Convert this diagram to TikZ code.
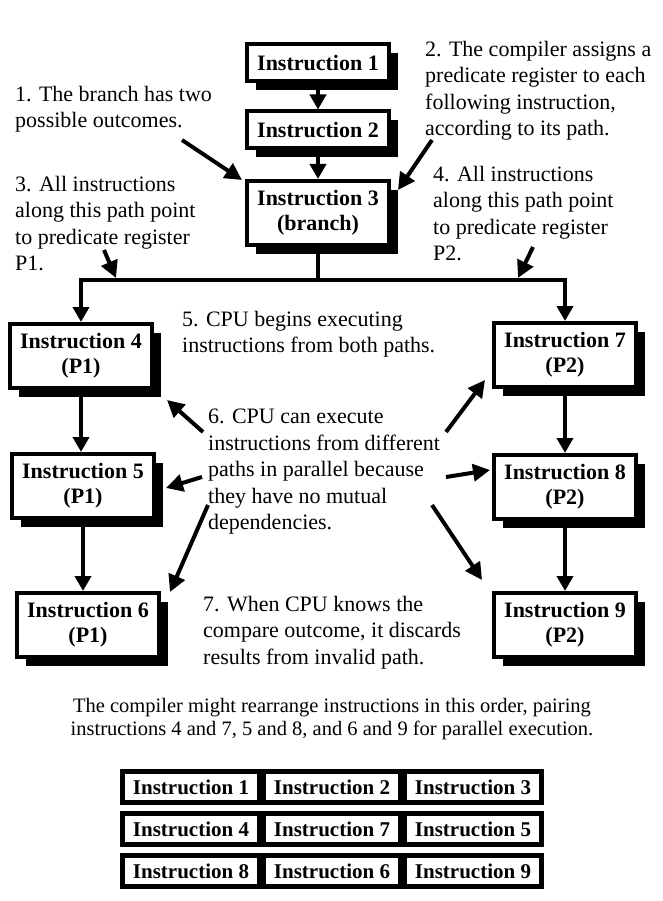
\documentclass[tikz,border=0pt]{standalone}
\usepackage{fontspec}
\setmainfont{Liberation Serif}
\usetikzlibrary{arrows.meta,shadows}

\begin{document}
\begin{tikzpicture}[x=1pt,y=-1pt,
  instr/.style={draw, line width=4pt, fill=white, align=center, inner sep=2pt,
    font=\fontsize{22}{25}\selectfont\bfseries, minimum width=142pt,
    drop shadow={shadow xshift=9pt, shadow yshift=-9pt, opacity=1, fill=black}},
  onebox/.style={instr, minimum height=37pt},
  twobox/.style={instr, minimum height=64pt},
  cell/.style={draw, line width=4.5pt, fill=white, minimum width=137pt,
    minimum height=31pt, inner sep=0pt, font=\fontsize{21}{24}\selectfont\bfseries},
  note/.style={align=left, anchor=north west, inner sep=0pt,
    font=\fontsize{22}{26.5}\selectfont},
  flow/.style={line width=4pt, -{Triangle[length=15pt,width=16pt]}},
  hint/.style={line width=4pt, -{Triangle[length=17pt,width=17pt]}}
]
\useasboundingbox (0,0) rectangle (663,901);

% instruction boxes of the flow
\node[onebox] (i1) at (318,63) {Instruction 1};
\node[onebox] (i2) at (318,130) {Instruction 2};
\node[twobox] (i3) at (318,213) {Instruction 3\\(branch)};
\node[twobox] (i4) at (81,356) {Instruction 4\\(P1)};
\node[twobox] (i5) at (83,486) {Instruction 5\\(P1)};
\node[twobox] (i6) at (88,625) {Instruction 6\\(P1)};
\node[twobox] (i7) at (565,355) {Instruction 7\\(P2)};
\node[twobox] (i8) at (565,487) {Instruction 8\\(P2)};
\node[twobox] (i9) at (565,625) {Instruction 9\\(P2)};

% flow connectors
\draw[flow] (i1) -- (i2);
\draw[flow] (i2) -- (i3);
\coordinate (split) at (i3.south |- 0,280);
\draw[line width=4pt] (i3.south) -- (split);
\draw[flow] (split) -| (i4.north);
\draw[flow] (split) -| (i7.north);
\draw[flow] (i4.south) -- (i4.south |- i5.north);
\draw[flow] (i5.south) -- (i5.south |- i6.north);
\draw[flow] (i7) -- (i8);
\draw[flow] (i8) -- (i9);

% explanatory notes
\node[note] (n1) at (15,86) {1. The branch has two\\possible outcomes.};
\node[note] (n2) at (425,41) {2. The compiler assigns a\\predicate register to each\\following instruction,\\according to its path.};
\node[note] (n3) at (15,176) {3. All instructions\\along this path point\\to predicate register\\P1.};
\node[note] (n4) at (433,166) {4. All instructions\\along this path point\\to predicate register\\P2.};
\node[note] (n5) at (182,311) {5. CPU begins executing\\instructions from both paths.};
\node[note] (n6) at (208,409) {6. CPU can execute\\instructions from different\\paths in parallel because\\they have no mutual\\dependencies.};
\node[note] (n7) at (203,596) {7. When CPU knows the\\compare outcome, it discards\\results from invalid path.};

% pointers from the notes
\coordinate (h1s) at (182,140); \coordinate (h1e) at (242,180);
\coordinate (h2s) at (432,140); \coordinate (h2e) at (398,190);
\coordinate (h3s) at (104,250); \coordinate (h3e) at (116,278);
\coordinate (h4s) at (533,247); \coordinate (h4e) at (518,278);
\coordinate (h6as) at (203,432); \coordinate (h6ae) at (167,400);
\coordinate (h6bs) at (446,432); \coordinate (h6be) at (485,380);
\coordinate (h6cs) at (202,477); \coordinate (h6ce) at (166,488);
\coordinate (h6ds) at (446,477); \coordinate (h6de) at (490,470);
\coordinate (h6es) at (208,505); \coordinate (h6ee) at (170,592);
\coordinate (h6fs) at (432,505); \coordinate (h6fe) at (482,580);
\draw[hint] (h1s) -- (h1e);
\draw[hint] (h2s) -- (h2e);
\draw[hint] (h3s) -- (h3e);
\draw[hint] (h4s) -- (h4e);
\draw[hint] (h6as) -- (h6ae);
\draw[hint] (h6bs) -- (h6be);
\draw[hint] (h6cs) -- (h6ce);
\draw[hint] (h6ds) -- (h6de);
\draw[hint] (h6es) -- (h6ee);
\draw[hint] (h6fs) -- (h6fe);

% reordered schedule
\node[anchor=north, align=center, inner sep=0pt, font=\fontsize{20.5}{23}\selectfont]
  (cap) at (332,698) {The compiler might rearrange instructions in this order, pairing\\instructions 4 and 7, 5 and 8, and 6 and 9 for parallel execution.};

\node[cell] (t11) at (191,787) {Instruction 1};
\node[cell] (t12) at (332,787) {Instruction 2};
\node[cell] (t13) at (473,787) {Instruction 3};
\node[cell] (t21) at (191,829) {Instruction 4};
\node[cell] (t22) at (332,829) {Instruction 7};
\node[cell] (t23) at (473,829) {Instruction 5};
\node[cell] (t31) at (191,871) {Instruction 8};
\node[cell] (t32) at (332,871) {Instruction 6};
\node[cell] (t33) at (473,871) {Instruction 9};
\end{tikzpicture}
\end{document}
